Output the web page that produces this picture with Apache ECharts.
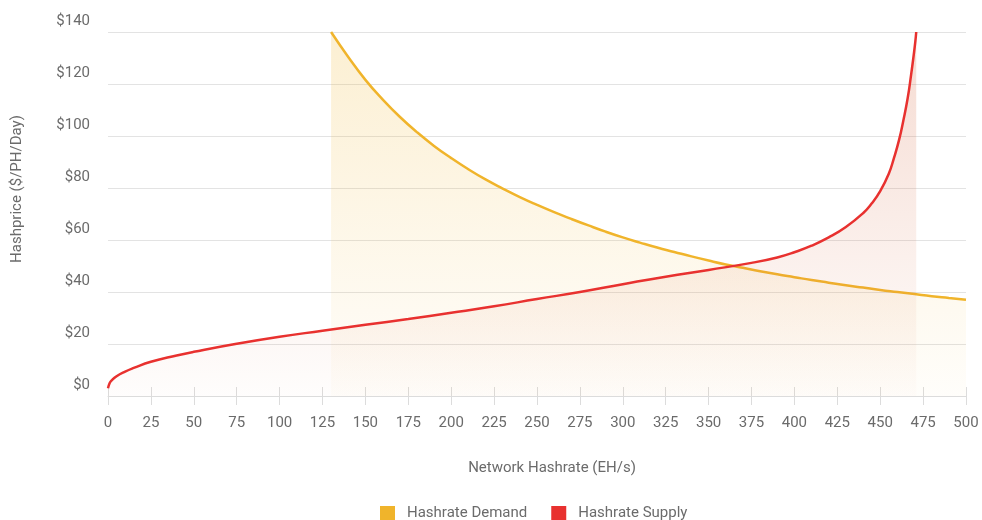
<!DOCTYPE html>
<html>
<head>
<meta charset="utf-8">
<title>Hashrate Supply and Demand</title>
<script src="https://cdn.jsdelivr.net/npm/echarts@6/dist/echarts.min.js"></script>
<style>
  html, body { margin: 0; padding: 0; background: #ffffff; }
  #chart { width: 982px; height: 520px; }
</style>
</head>
<body>
<div id="chart"></div>
<script>
// Network hashrate (EH/s) and hashprice ($/PH/Day) for the demand curve
const demandHashrate = [130, 140, 150, 160, 170, 180, 190, 200, 210, 220, 230, 240, 250, 260, 270, 280, 290, 300,
  310, 320, 330, 340, 350, 360, 370, 380, 390, 400, 410, 420, 430, 440, 450, 460, 470, 480, 490, 500];
const demandPrice = [140, 130.4, 121.6, 114.1, 107.4, 101.5, 96.2, 91.5, 87.2, 83.3, 79.8, 76.5, 73.5, 70.7, 68.1, 65.6,
  63.2, 61, 59, 57.1, 55.4, 53.7, 52.1, 50.6, 49.3, 48, 46.8, 45.7, 44.6, 43.6, 42.6, 41.7, 40.8, 40, 39.2, 38.4, 37.7, 37];

// Network hashrate (EH/s) and hashprice ($/PH/Day) for the supply curve
const supplyHashrate = [0, 1, 2, 5, 10, 15, 25, 40, 50, 75, 100, 125, 150, 175, 200, 225, 250, 275, 300, 325, 350, 375,
  390, 400, 410, 420, 430, 440, 445, 450, 455, 458, 461, 463.5, 466, 468, 469.5, 470.5, 471];
const supplyPrice = [3, 5, 5.9, 7.6, 9.4, 10.8, 13.2, 15.6, 17, 20.1, 22.8, 25.1, 27.4, 29.6, 32, 34.5, 37.3, 40, 43, 45.9, 48.5, 51.2,
  53.3, 55.3, 57.8, 61, 65, 70.3, 74, 78.8, 85.5, 91.5, 98.5, 106, 114.5, 123.5, 131, 136.5, 140];

const xTicks = { min: 0, max: 500, interval: 25 };
const yTicks = { min: 0, max: 140, interval: 20 };

const pairs = (xs, ys) => xs.map((x, i) => [x, ys[i]]);

const labelColor = '#6b6b6b';
const lineGray = '#e3e3e3';
const font = 'Roboto, "Noto Sans", sans-serif';

const chart = echarts.init(document.getElementById('chart'), null, { renderer: 'canvas' });

chart.setOption({
  animation: false,
  backgroundColor: '#ffffff',
  textStyle: { fontFamily: font },
  grid: { left: 108, right: 16, top: 32, bottom: 124, containLabel: false },
  legend: {
    top: 506,
    left: 380,
    padding: 0,
    itemWidth: 15,
    itemHeight: 15,
    itemGap: 24,
    icon: 'rect',
    textStyle: { fontSize: 15, color: labelColor, fontFamily: font, padding: [0, 0, 0, 7] },
    data: ['Hashrate Demand', 'Hashrate Supply']
  },
  xAxis: [
    {
      type: 'value',
      position: 'bottom',
      min: xTicks.min, max: xTicks.max, interval: xTicks.interval,
      name: 'Network Hashrate (EH/s)',
      nameLocation: 'middle',
      nameGap: 65,
      nameTextStyle: { fontSize: 15, color: labelColor, fontFamily: font, padding: [0, 0, 0, 30] },
      axisLine: { show: true, lineStyle: { color: '#dcdcdc', width: 1 } },
      axisTick: { show: true, inside: false, length: 9, lineStyle: { color: '#dcdcdc' } },
      axisLabel: { fontSize: 15, color: labelColor, margin: 20, fontFamily: font },
      splitLine: { show: false }
    },
    {
      type: 'value',
      position: 'bottom',
      min: xTicks.min, max: xTicks.max, interval: xTicks.interval,
      axisLine: { show: false },
      axisTick: { show: true, inside: true, length: 9, lineStyle: { color: '#dcdcdc' } },
      axisLabel: { show: false },
      splitLine: { show: false }
    }
  ],
  yAxis: {
    type: 'value',
    min: yTicks.min, max: yTicks.max, interval: yTicks.interval,
    name: 'Hashprice ($/PH/Day)',
    nameLocation: 'middle',
    nameGap: 83,
    nameTextStyle: { fontSize: 15, color: labelColor, fontFamily: font, padding: [0, 0, 0, 50] },
    axisLine: { show: false },
    axisTick: { show: false },
    axisLabel: {
      fontSize: 15, color: labelColor, margin: 18, fontFamily: font,
      verticalAlign: 'bottom', padding: [0, 0, 3, 0],
      formatter: v => '$' + v
    },
    splitLine: { show: true, lineStyle: { color: lineGray, width: 1 } }
  },
  series: [
    {
      name: 'Hashrate Demand',
      type: 'line',
      xAxisIndex: 0,
      data: pairs(demandHashrate, demandPrice),
      smooth: 0.5,
      showSymbol: false,
      symbol: 'none',
      itemStyle: { color: '#F0B42B' },
      lineStyle: { color: '#F0B42B', width: 2.5 },
      areaStyle: {
        color: new echarts.graphic.LinearGradient(0, 0, 0, 1, [
          { offset: 0, color: 'rgba(240,180,43,0.30)' },
          { offset: 1, color: 'rgba(240,180,43,0.03)' }
        ])
      },
      z: 2
    },
    {
      name: 'Hashrate Supply',
      type: 'line',
      xAxisIndex: 0,
      data: pairs(supplyHashrate, supplyPrice),
      smooth: 0.5,
      showSymbol: false,
      symbol: 'none',
      itemStyle: { color: '#E8312F' },
      lineStyle: { color: '#E8312F', width: 2.5 },
      areaStyle: {
        color: new echarts.graphic.LinearGradient(0, 0, 0, 1, [
          { offset: 0, color: 'rgba(215,105,65,0.34)' },
          { offset: 1, color: 'rgba(215,105,65,0.02)' }
        ])
      },
      z: 3
    }
  ]
});
</script>
</body>
</html>
